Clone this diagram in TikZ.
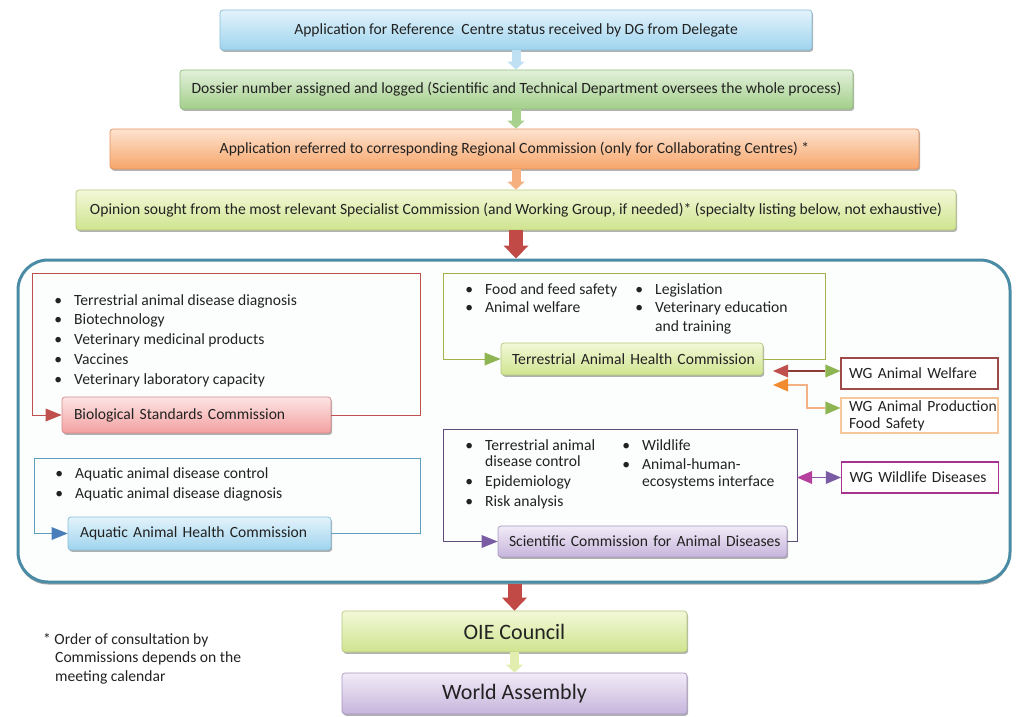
\documentclass[tikz,border=0pt]{standalone}
\usepackage{fontspec}
\setmainfont{Carlito}
\usetikzlibrary{arrows.meta,shadows,calc}

% box fills: T = top, B = bottom, E = edge
\definecolor{pblueT}{HTML}{E3F3FB}\definecolor{pblueB}{HTML}{9FD4EE}\definecolor{pblueE}{HTML}{86BFD9}
\definecolor{pgreenT}{HTML}{E2F0DA}\definecolor{pgreenB}{HTML}{A3CF8B}\definecolor{pgreenE}{HTML}{8FBF7A}
\definecolor{porangeT}{HTML}{FDE3CF}\definecolor{porangeB}{HTML}{F7A56A}\definecolor{porangeE}{HTML}{E3925E}
\definecolor{plimeT}{HTML}{F3F8D8}\definecolor{plimeB}{HTML}{CFE48F}\definecolor{plimeE}{HTML}{B5C97D}
\definecolor{predT}{HTML}{FDE4E4}\definecolor{predB}{HTML}{F3A0A0}\definecolor{predE}{HTML}{D98B8B}
\definecolor{ppurpT}{HTML}{F1EBF7}\definecolor{ppurpB}{HTML}{C7B5DC}\definecolor{ppurpE}{HTML}{A898C0}
% block arrows
\definecolor{arBlue}{HTML}{BFE0F2}\definecolor{arGreen}{HTML}{A9D18E}
\definecolor{arOrange}{HTML}{F6B07F}\definecolor{arLime}{HTML}{E2EEB0}
\definecolor{arRed}{HTML}{C24A46}
% frames and tips
\definecolor{frRed}{HTML}{C0504D}\definecolor{frBlue}{HTML}{5D9FBC}
\definecolor{frGreen}{HTML}{A6B048}\definecolor{frPurple}{HTML}{5F4C7A}
\definecolor{tipRed}{HTML}{C0504D}\definecolor{tipBlue}{HTML}{4A7EBB}
\definecolor{tipGreen}{HTML}{8DB552}\definecolor{tipPurple}{HTML}{7A5CA5}
\definecolor{tipOrange}{HTML}{F28B30}\definecolor{tipMagenta}{HTML}{B5409E}
\definecolor{wgRed}{HTML}{9E4A48}\definecolor{wgOrange}{HTML}{F7C89C}\definecolor{wgMagenta}{HTML}{A8338E}
\definecolor{lnBrown}{HTML}{8C3B36}\definecolor{lnOrange}{HTML}{F4B183}\definecolor{lnPurple}{HTML}{8A5AA8}
\definecolor{panelE}{HTML}{4A8CA5}\definecolor{panelF}{HTML}{FCFDFD}
\definecolor{txt}{HTML}{222222}

\newcommand\bul{\llap{\textbullet\hspace{12pt}}}

\begin{document}
\begin{tikzpicture}[x=1pt,y=-1pt,
  every node/.style={text=txt},
  flowbox/.style={rectangle, rounded corners=3pt, draw=#1E, top color=#1T, bottom color=#1B,
    line width=0.7pt, inner sep=0pt, font=\fontsize{15.6}{18}\selectfont,
    drop shadow={shadow xshift=1.2pt, shadow yshift=-1.8pt, opacity=0.3, fill=black}},
  combox/.style={flowbox=#1, inner xsep=12pt},
  bigbox/.style={flowbox=#1, font=\fontsize{22}{26}\selectfont},
  wgbox/.style={rectangle, draw=#1, line width=1.1pt, fill=white, inner xsep=8pt, inner ysep=0pt,
    text width=141pt, font=\fontsize{15.6}{17}\selectfont},
  blockarrow/.style={draw=#1, line width=9pt, -{Triangle[length=8pt, width=17pt, line width=0pt, color=#1]}},
  bigarrow/.style={draw=#1, line width=14pt, -{Triangle[length=13pt, width=25pt, line width=0pt, color=#1]}},
  frame/.style 2 args={draw=#1, line width=0.9pt, -{Triangle[length=16pt, width=13pt, line width=0pt, color=#2]}},
  link/.style n args={3}{draw=#1, line width=1.3pt,
    {Triangle[length=15pt, width=13pt, line width=0pt, color=#2]}-{Triangle[length=15pt, width=13pt, line width=0pt, color=#3]}},
  itm/.style={anchor=base west, inner sep=0pt, font=\fontsize{15.6}{18}\selectfont},
]
\fill[white] (0,0) rectangle (1022,717);
\useasboundingbox (0,0) rectangle (1022,717);

% ---- main sequence ----
\node[flowbox=pblue, minimum width=592pt, minimum height=40pt] (s1) at (516,30)
  {Application for Reference\ \ Centre status received by DG from Delegate};
\node[flowbox=pgreen, minimum width=673pt, minimum height=39pt] (s2) at (516.5,89.5)
  {Dossier number assigned and logged (Scientific and Technical Department oversees the whole process)};
\node[flowbox=porange, minimum width=809pt, minimum height=40pt] (s3) at (514.5,149)
  {Application referred to corresponding Regional Commission (only for Collaborating Centres) *};
\node[flowbox=plime, minimum width=880pt, minimum height=40pt] (s4) at (516,210)
  {Opinion sought from the most relevant Specialist Commission (and Working Group, if needed)* (specialty listing below, not exhaustive)};

\draw[blockarrow=arBlue] (s1.south) -- (s1.south |- s2.north);
\draw[blockarrow=arGreen] (s2.south -| s1.south) -- (s1.south |- s3.north);
\draw[blockarrow=arOrange] (s3.south -| s1.south) -- (s1.south |- s4.north);

% ---- commissions panel ----
\node[rectangle, rounded corners=30pt, draw=panelE, line width=3pt, fill=panelF,
  minimum width=992pt, minimum height=322pt,
  drop shadow={shadow xshift=0pt, shadow yshift=-2.5pt, opacity=0.35, fill=black}] (panel) at (514,421) {};
\draw[bigarrow=arRed] (s4.south -| s1.south) -- (s1.south |- panel.north);

% Biological Standards Commission
\node[combox=pred, text width=245pt, minimum height=36pt] (bio) at (196.5,415) {\mbox{Biological Standards Commission}};
\coordinate (bsTR) at (420,273);
\coordinate (bsTL) at (32,273);
\draw[frame={frRed}{tipRed}] (bio.east) -| (bsTR) -| (bsTL |- bio.west) -- (bio.west);
\foreach \t [count=\i] in {Terrestrial animal disease diagnosis, Biotechnology,
    Veterinary medicinal products, Vaccines, Veterinary laboratory capacity}
  \node[itm] (bs\i) at (74,{305+19.8*(\i-1)}) {\bul\t};

% Aquatic Animal Health Commission
\node[combox=pblue, text width=239pt, minimum height=33pt] (aqua) at (199.5,533.5) {\mbox{Aquatic Animal Health Commission}};
\coordinate (aqTR) at (420,458);
\coordinate (aqTL) at (34,458);
\draw[frame={frBlue}{tipBlue}] (aqua.east) -| (aqTR) -| (aqTL |- aqua.west) -- (aqua.west);
\node[itm] (aq1) at (75,478) {\bul Aquatic animal disease control};
\node[itm] (aq2) at (75,498) {\bul Aquatic animal disease diagnosis};

% Terrestrial Animal Health Commission
\node[combox=plime, text width=240pt, inner xsep=11pt, minimum height=32pt] (tah) at (632,359) {\mbox{Terrestrial Animal Health Commission}};
\coordinate (thTR) at (825,273);
\coordinate (thTL) at (443,273);
\draw[frame={frGreen}{tipGreen}] (tah.east) -| (thTR) -| (thTL |- tah.west) -- (tah.west);
\node[itm] (th1) at (485,294) {\bul Food and feed safety};
\node[itm] (th2) at (485,312) {\bul Animal welfare};
\node[itm] (th3) at (655,294) {\bul Legislation};
\node[itm] (th4) at (655,312) {\bul Veterinary education};
\node[itm] (th5) at (655,331) {and training};

% Scientific Commission for Animal Diseases
\node[combox=ppurp, text width=267pt, inner xsep=11pt, minimum height=31pt] (sci) at (642.5,541.5) {\mbox{Scientific Commission for Animal Diseases}};
\coordinate (scTR) at (797,429);
\coordinate (scTL) at (443,429);
\draw[frame={frPurple}{tipPurple}] (sci.east) -| (scTR) -| (scTL |- sci.west) -- (sci.west);
\node[itm] (sc1) at (485,450) {\bul Terrestrial animal};
\node[itm] (sc2) at (485,466) {disease control};
\node[itm] (sc3) at (485,486) {\bul Epidemiology};
\node[itm] (sc4) at (485,506) {\bul Risk analysis};
\node[itm] (sc5) at (642,450) {\bul Wildlife};
\node[itm] (sc6) at (642,469) {\bul Animal-human-};
\node[itm] (sc7) at (642,486) {ecosystems interface};

% ---- working groups ----
\node[wgbox=wgRed, minimum height=31pt] (wgaw) at (919.5,373.5) {\mbox{WG Animal Welfare}};
\node[wgbox=wgOrange, minimum height=35pt] (wgpf) at (919.5,415.5) {\mbox{WG Animal Production}\\\mbox{Food Safety}};
\node[wgbox=wgMagenta, minimum height=31pt] (wgwl) at (920,477.5) {\mbox{WG Wildlife Diseases}};

\coordinate (awL) at (773,371);
\draw[link={lnBrown}{tipRed}{tipGreen}] (awL) -- (awL -| wgaw.west);
\coordinate (pfL) at (773,385);
\coordinate (pfK) at (807,408);
\draw[link={lnOrange}{tipOrange}{tipGreen}] (pfL) -| (pfK) -- (pfK -| wgpf.west);
\draw[link={lnPurple}{tipMagenta}{tipPurple}] (scTR |- wgwl.west) -- (wgwl.west);

% ---- final steps ----
\node[bigbox=plime, minimum width=345pt, minimum height=41pt] (oie) at (514.5,631.5) {OIE Council};
\node[bigbox=ppurp, minimum width=345pt, minimum height=41pt] (wa) at (514.5,693.5) {World Assembly};
\draw[bigarrow=arRed] (oie.north |- panel.south) -- (oie.north);
\draw[blockarrow=arLime] (oie.south) -- (wa.north);

% ---- footnote ----
\node[itm] (fn1) at (43,644) {* Order of consultation by};
\node[itm] (fn2) at (55,662) {Commissions depends on the};
\node[itm] (fn3) at (55,681) {meeting calendar};
\end{tikzpicture}
\end{document}
